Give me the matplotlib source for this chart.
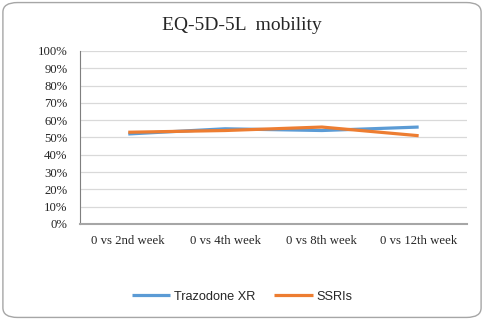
import matplotlib.pyplot as plt
from matplotlib.patches import FancyBboxPatch
from matplotlib.ticker import PercentFormatter

categories = ["0 vs 2nd week", "0 vs 4th week", "0 vs 8th week", "0 vs 12th week"]
trazodone = [52, 55, 54, 56]
ssris = [53, 54, 56, 51]

fig = plt.figure(figsize=(4.84, 3.2), dpi=100)
ax = fig.add_axes([0.165, 0.30, 0.80, 0.541])

# rounded frame around the whole chart
frame = FancyBboxPatch((0.006, 0.008), 0.988, 0.984, boxstyle="round,pad=0,rounding_size=0.03",
                       transform=fig.transFigure, fill=False, edgecolor="#A6A6A6", linewidth=1.0)
fig.patches.append(frame)

x = range(len(categories))
ax.plot(x, trazodone, color="#5B9BD5", linewidth=2.3, label="Trazodone XR", solid_capstyle="butt")
ax.plot(x, ssris, color="#ED7D31", linewidth=2.3, label="SSRIs", solid_capstyle="butt")

ax.set_xlim(-0.5, len(categories) - 0.5)
ax.set_ylim(0, 100)
ax.set_yticks(range(0, 101, 10))
ax.yaxis.set_major_formatter(PercentFormatter(decimals=0))
ax.set_xticks(list(x))
ax.set_xticklabels(categories)
ax.grid(axis="y", color="#D9D9D9", linewidth=0.9)
ax.set_axisbelow(True)
for s in ["top", "right"]:
    ax.spines[s].set_visible(False)
ax.spines["bottom"].set_color("#A6A6A6")
ax.spines["bottom"].set_linewidth(1.5)
ax.spines["left"].set_color("#7F7F7F")
ax.spines["left"].set_linewidth(0.8)
ax.tick_params(length=0, labelsize=9.2, colors="#262626")
ax.tick_params(axis="x", pad=8)
ax.tick_params(axis="y", pad=9)
for lab in ax.get_xticklabels() + ax.get_yticklabels():
    lab.set_fontfamily("Liberation Serif")

fig.text(0.5, 0.92, "EQ-5D-5L  mobility", ha="center", va="center",
         fontsize=14, family="Liberation Serif", color="#262626")

leg = fig.legend(loc="center", bbox_to_anchor=(0.5, 0.072), ncol=2, frameon=False,
                 prop={"family": "Liberation Sans", "size": 9.2}, handlelength=3.0,
                 handletextpad=0.3, columnspacing=1.5)
for t in leg.get_texts():
    t.set_color("#262626")

fig.savefig("out.png", dpi=100)
